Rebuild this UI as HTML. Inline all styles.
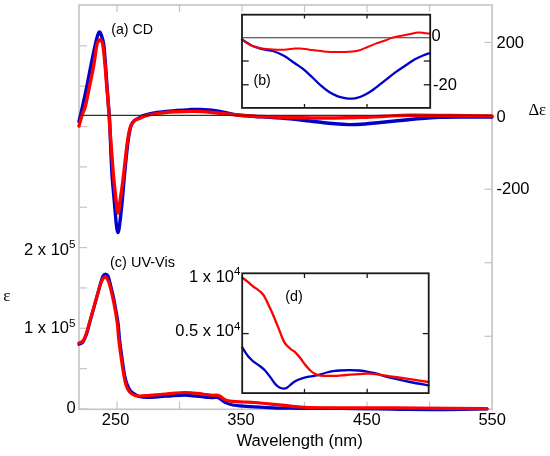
<!DOCTYPE html>
<html><head><meta charset="utf-8"><style>
html,body{margin:0;padding:0;background:#fff;width:550px;height:456px;overflow:hidden;font-family:"Liberation Sans",sans-serif;}
svg{display:block;will-change:transform;}
</style></head><body>
<svg width="550" height="456" viewBox="0 0 550 456">
<rect width="550" height="456" fill="#fff"/>
<rect x="79" y="5" width="413.1" height="404.3" fill="none" stroke="#c4c4c4" stroke-width="1.6"/>
<line x1="117" y1="5" x2="117" y2="12" stroke="#c4c4c4" stroke-width="1.2"/>
<line x1="117" y1="409" x2="117" y2="401.5" stroke="#c4c4c4" stroke-width="1.2"/>
<line x1="179.5" y1="5" x2="179.5" y2="12" stroke="#c4c4c4" stroke-width="1.2"/>
<line x1="179.5" y1="409" x2="179.5" y2="401.5" stroke="#c4c4c4" stroke-width="1.2"/>
<line x1="242" y1="5" x2="242" y2="12" stroke="#c4c4c4" stroke-width="1.2"/>
<line x1="242" y1="409" x2="242" y2="401.5" stroke="#c4c4c4" stroke-width="1.2"/>
<line x1="304.5" y1="5" x2="304.5" y2="12" stroke="#c4c4c4" stroke-width="1.2"/>
<line x1="304.5" y1="409" x2="304.5" y2="401.5" stroke="#c4c4c4" stroke-width="1.2"/>
<line x1="367" y1="5" x2="367" y2="12" stroke="#c4c4c4" stroke-width="1.2"/>
<line x1="367" y1="409" x2="367" y2="401.5" stroke="#c4c4c4" stroke-width="1.2"/>
<line x1="429.5" y1="5" x2="429.5" y2="12" stroke="#c4c4c4" stroke-width="1.2"/>
<line x1="429.5" y1="409" x2="429.5" y2="401.5" stroke="#c4c4c4" stroke-width="1.2"/>
<line x1="79" y1="409.00" x2="87" y2="409.00" stroke="#c4c4c4" stroke-width="1.2"/>
<line x1="79" y1="368.65" x2="87" y2="368.65" stroke="#c4c4c4" stroke-width="1.2"/>
<line x1="79" y1="328.30" x2="87" y2="328.30" stroke="#c4c4c4" stroke-width="1.2"/>
<line x1="79" y1="287.95" x2="87" y2="287.95" stroke="#c4c4c4" stroke-width="1.2"/>
<line x1="79" y1="247.60" x2="87" y2="247.60" stroke="#c4c4c4" stroke-width="1.2"/>
<line x1="79" y1="207.25" x2="87" y2="207.25" stroke="#c4c4c4" stroke-width="1.2"/>
<line x1="79" y1="166.90" x2="87" y2="166.90" stroke="#c4c4c4" stroke-width="1.2"/>
<line x1="79" y1="126.55" x2="87" y2="126.55" stroke="#c4c4c4" stroke-width="1.2"/>
<line x1="79" y1="86.20" x2="87" y2="86.20" stroke="#c4c4c4" stroke-width="1.2"/>
<line x1="79" y1="45.85" x2="87" y2="45.85" stroke="#c4c4c4" stroke-width="1.2"/>
<line x1="484.5" y1="42.40" x2="492" y2="42.40" stroke="#c4c4c4" stroke-width="1.2"/>
<line x1="484.5" y1="115.80" x2="492" y2="115.80" stroke="#c4c4c4" stroke-width="1.2"/>
<line x1="484.5" y1="189.20" x2="492" y2="189.20" stroke="#c4c4c4" stroke-width="1.2"/>
<line x1="484.5" y1="262.80" x2="492" y2="262.80" stroke="#c4c4c4" stroke-width="1.2"/>
<line x1="484.5" y1="336.30" x2="492" y2="336.30" stroke="#c4c4c4" stroke-width="1.2"/>
<path d="M79.00,121.50 C79.60,118.92 81.28,111.92 82.60,106.00 C83.92,100.08 85.50,92.83 86.90,86.00 C88.30,79.17 89.62,71.83 91.00,65.00 C92.38,58.17 94.10,49.92 95.20,45.00 C96.30,40.08 96.90,37.67 97.60,35.50 C98.30,33.33 98.78,32.08 99.40,32.00 C100.02,31.92 100.57,32.83 101.30,35.00 C102.03,37.17 103.10,40.00 103.80,45.00 C104.50,50.00 104.97,58.17 105.50,65.00 C106.03,71.83 106.50,79.17 107.00,86.00 C107.50,92.83 108.07,100.33 108.50,106.00 C108.93,111.67 109.22,112.67 109.60,120.00 C109.98,127.33 110.38,140.67 110.80,150.00 C111.22,159.33 111.53,167.67 112.10,176.00 C112.67,184.33 113.50,192.00 114.20,200.00 C114.90,208.00 115.67,218.58 116.30,224.00 C116.93,229.42 117.43,232.50 118.00,232.50 C118.57,232.50 118.98,229.42 119.70,224.00 C120.42,218.58 121.52,208.00 122.30,200.00 C123.08,192.00 123.62,184.33 124.40,176.00 C125.18,167.67 126.23,156.83 127.00,150.00 C127.77,143.17 128.28,139.17 129.00,135.00 C129.72,130.83 130.38,127.42 131.30,125.00 C132.22,122.58 133.22,121.67 134.50,120.50 C135.78,119.33 137.42,118.83 139.00,118.00 C140.58,117.17 141.00,116.42 144.00,115.50 C147.00,114.58 151.67,113.33 157.00,112.50 C162.33,111.67 170.50,110.98 176.00,110.50 C181.50,110.02 186.00,109.77 190.00,109.60 C194.00,109.43 195.83,109.33 200.00,109.50 C204.17,109.67 210.33,109.98 215.00,110.60 C219.67,111.22 223.83,112.42 228.00,113.20 C232.17,113.98 235.50,114.75 240.00,115.30 C244.50,115.85 250.00,116.17 255.00,116.50 C260.00,116.83 264.17,116.92 270.00,117.30 C275.83,117.68 283.33,118.18 290.00,118.80 C296.67,119.42 302.50,120.17 310.00,121.00 C317.50,121.83 328.50,123.20 335.00,123.80 C341.50,124.40 344.00,124.57 349.00,124.60 C354.00,124.63 359.83,124.35 365.00,124.00 C370.17,123.65 375.00,123.00 380.00,122.50 C385.00,122.00 390.00,121.50 395.00,121.00 C400.00,120.50 405.00,119.95 410.00,119.50 C415.00,119.05 420.00,118.65 425.00,118.30 C430.00,117.95 434.17,117.60 440.00,117.40 C445.83,117.20 451.33,117.17 460.00,117.10 C468.67,117.03 486.67,117.02 492.00,117.00" fill="none" stroke="#0000c8" stroke-width="3.4" stroke-linejoin="round" stroke-linecap="round"/>
<path d="M79.00,126.00 C79.52,124.17 81.03,118.33 82.10,115.00 C83.17,111.67 84.15,110.83 85.40,106.00 C86.65,101.17 88.20,92.83 89.60,86.00 C91.00,79.17 92.60,71.83 93.80,65.00 C95.00,58.17 96.02,49.00 96.80,45.00 C97.58,41.00 97.97,41.87 98.50,41.00 C99.03,40.13 99.50,39.80 100.00,39.80 C100.50,39.80 101.02,40.13 101.50,41.00 C101.98,41.87 102.30,41.00 102.90,45.00 C103.50,49.00 104.47,58.17 105.10,65.00 C105.73,71.83 106.22,80.17 106.70,86.00 C107.18,91.83 107.62,95.17 108.00,100.00 C108.38,104.83 108.67,110.00 109.00,115.00 C109.33,120.00 109.58,124.17 110.00,130.00 C110.42,135.83 110.92,142.33 111.50,150.00 C112.08,157.67 112.75,167.67 113.50,176.00 C114.25,184.33 115.25,193.83 116.00,200.00 C116.75,206.17 117.30,213.00 118.00,213.00 C118.70,213.00 119.37,205.50 120.20,200.00 C121.03,194.50 121.97,188.33 123.00,180.00 C124.03,171.67 125.48,157.50 126.40,150.00 C127.32,142.50 127.70,139.17 128.50,135.00 C129.30,130.83 130.07,127.50 131.20,125.00 C132.33,122.50 133.83,121.12 135.30,120.00 C136.77,118.88 138.55,118.92 140.00,118.30 C141.45,117.68 141.17,117.12 144.00,116.30 C146.83,115.48 151.67,114.15 157.00,113.40 C162.33,112.65 169.67,112.13 176.00,111.80 C182.33,111.47 189.33,111.33 195.00,111.40 C200.67,111.47 204.50,111.77 210.00,112.20 C215.50,112.63 223.00,113.48 228.00,114.00 C233.00,114.52 234.67,114.88 240.00,115.30 C245.33,115.72 251.67,116.13 260.00,116.50 C268.33,116.87 277.50,117.25 290.00,117.50 C302.50,117.75 323.33,118.02 335.00,118.00 C346.67,117.98 351.67,117.70 360.00,117.40 C368.33,117.10 376.67,116.57 385.00,116.20 C393.33,115.83 399.17,115.32 410.00,115.20 C420.83,115.08 436.33,115.37 450.00,115.50 C463.67,115.63 485.00,115.92 492.00,116.00" fill="none" stroke="#ff0000" stroke-width="3.4" stroke-linejoin="round" stroke-linecap="round"/>
<path d="M79.00,344.20 C79.67,343.83 81.75,343.70 83.00,342.00 C84.25,340.30 85.33,337.40 86.50,334.00 C87.67,330.60 88.83,325.77 90.00,321.60 C91.17,317.43 92.33,313.18 93.50,309.00 C94.67,304.82 95.82,300.78 97.00,296.50 C98.18,292.22 99.60,286.72 100.60,283.30 C101.60,279.88 102.18,277.55 103.00,276.00 C103.82,274.45 104.67,274.00 105.50,274.00 C106.33,274.00 107.25,274.50 108.00,276.00 C108.75,277.50 109.08,279.42 110.00,283.00 C110.92,286.58 112.47,292.68 113.50,297.50 C114.53,302.32 115.40,307.32 116.20,311.90 C117.00,316.48 117.73,320.32 118.30,325.00 C118.87,329.68 118.93,334.17 119.60,340.00 C120.27,345.83 121.47,354.17 122.30,360.00 C123.13,365.83 123.82,371.00 124.60,375.00 C125.38,379.00 126.00,381.33 127.00,384.00 C128.00,386.67 129.10,389.20 130.60,391.00 C132.10,392.80 134.43,393.83 136.00,394.80 C137.57,395.77 138.00,396.38 140.00,396.80 C142.00,397.22 144.67,397.32 148.00,397.30 C151.33,397.28 156.00,396.95 160.00,396.70 C164.00,396.45 167.83,396.05 172.00,395.80 C176.17,395.55 181.50,395.20 185.00,395.20 C188.50,395.20 190.50,395.58 193.00,395.80 C195.50,396.02 197.38,396.22 200.00,396.50 C202.62,396.78 206.53,397.32 208.70,397.50 C210.87,397.68 211.53,397.62 213.00,397.60 C214.47,397.58 216.17,397.08 217.50,397.40 C218.83,397.72 219.55,398.58 221.00,399.50 C222.45,400.42 224.25,401.98 226.20,402.90 C228.15,403.82 229.80,404.45 232.70,405.00 C235.60,405.55 239.97,405.90 243.60,406.20 C247.23,406.50 250.85,406.58 254.50,406.80 C258.15,407.02 261.85,407.28 265.50,407.50 C269.15,407.72 272.77,407.98 276.40,408.10 C280.03,408.22 283.37,408.17 287.30,408.20 C291.23,408.23 291.22,408.25 300.00,408.30 C308.78,408.35 326.67,408.38 340.00,408.50 C353.33,408.62 368.83,408.83 380.00,409.00 C391.17,409.17 396.50,409.40 407.00,409.50 C417.50,409.60 429.67,409.68 443.00,409.60 C456.33,409.52 479.67,409.10 487.00,409.00" fill="none" stroke="#0000c8" stroke-width="3.2" stroke-linejoin="round" stroke-linecap="round"/>
<path d="M79.00,343.00 C79.67,342.63 81.75,342.47 83.00,340.80 C84.25,339.13 85.33,336.37 86.50,333.00 C87.67,329.63 88.83,324.70 90.00,320.60 C91.17,316.50 92.33,312.50 93.50,308.40 C94.67,304.30 95.82,300.10 97.00,296.00 C98.18,291.90 99.60,286.70 100.60,283.80 C101.60,280.90 102.27,279.73 103.00,278.60 C103.73,277.47 104.33,277.00 105.00,277.00 C105.67,277.00 106.28,277.47 107.00,278.60 C107.72,279.73 108.33,280.60 109.30,283.80 C110.27,287.00 111.77,293.12 112.80,297.80 C113.83,302.48 114.72,307.37 115.50,311.90 C116.28,316.43 116.95,320.32 117.50,325.00 C118.05,329.68 118.13,334.17 118.80,340.00 C119.47,345.83 120.67,354.17 121.50,360.00 C122.33,365.83 123.05,370.83 123.80,375.00 C124.55,379.17 125.03,382.17 126.00,385.00 C126.97,387.83 128.10,390.25 129.60,392.00 C131.10,393.75 133.27,394.83 135.00,395.50 C136.73,396.17 137.83,396.00 140.00,396.00 C142.17,396.00 144.67,395.73 148.00,395.50 C151.33,395.27 156.00,394.97 160.00,394.60 C164.00,394.23 167.83,393.65 172.00,393.30 C176.17,392.95 181.50,392.55 185.00,392.50 C188.50,392.45 190.50,392.80 193.00,393.00 C195.50,393.20 197.67,393.42 200.00,393.70 C202.33,393.98 204.83,394.43 207.00,394.70 C209.17,394.97 211.17,395.22 213.00,395.30 C214.83,395.38 216.67,394.95 218.00,395.20 C219.33,395.45 219.67,395.97 221.00,396.80 C222.33,397.63 224.05,399.43 226.00,400.20 C227.95,400.97 229.77,401.10 232.70,401.40 C235.63,401.70 239.97,401.82 243.60,402.00 C247.23,402.18 250.85,402.25 254.50,402.50 C258.15,402.75 261.85,403.15 265.50,403.50 C269.15,403.85 272.77,404.23 276.40,404.60 C280.03,404.97 283.67,405.33 287.30,405.70 C290.93,406.07 294.57,406.50 298.20,406.80 C301.83,407.10 302.13,407.33 309.10,407.50 C316.07,407.67 328.18,407.75 340.00,407.80 C351.82,407.85 366.67,407.73 380.00,407.80 C393.33,407.87 402.17,408.05 420.00,408.20 C437.83,408.35 475.83,408.62 487.00,408.70" fill="none" stroke="#ff0000" stroke-width="3.2" stroke-linejoin="round" stroke-linecap="round"/>
<line x1="79" y1="115.4" x2="492" y2="115.4" stroke="#303030" stroke-width="1.2"/>
<rect x="242" y="14.7" width="188.2" height="93.2" fill="#fff" stroke="none"/>
<line x1="242" y1="37.8" x2="430.2" y2="37.8" stroke="#333" stroke-width="1.1"/>
<path d="M242.00,39.60 C243.50,40.53 248.33,43.83 251.00,45.20 C253.67,46.57 255.67,47.07 258.00,47.80 C260.33,48.53 262.50,49.07 265.00,49.60 C267.50,50.13 269.85,49.97 273.00,51.00 C276.15,52.03 280.80,54.13 283.90,55.80 C287.00,57.47 289.42,59.50 291.60,61.00 C293.78,62.50 295.00,63.42 297.00,64.80 C299.00,66.18 301.08,67.25 303.60,69.30 C306.12,71.35 309.25,74.42 312.10,77.10 C314.95,79.78 317.85,82.92 320.70,85.40 C323.55,87.88 326.35,90.18 329.20,92.00 C332.05,93.82 334.95,95.25 337.80,96.30 C340.65,97.35 343.93,97.92 346.30,98.30 C348.67,98.68 350.22,98.67 352.00,98.60 C353.78,98.53 355.00,98.47 357.00,97.90 C359.00,97.33 361.37,96.52 364.00,95.20 C366.63,93.88 369.28,92.48 372.80,90.00 C376.32,87.52 381.28,83.28 385.10,80.30 C388.92,77.32 392.18,74.65 395.70,72.10 C399.22,69.55 402.98,67.15 406.20,65.00 C409.42,62.85 412.08,60.83 415.00,59.20 C417.92,57.57 421.20,56.22 423.70,55.20 C426.20,54.18 428.95,53.45 430.00,53.10" fill="none" stroke="#0000c8" stroke-width="2.3" stroke-linejoin="round" stroke-linecap="round"/>
<path d="M242.00,39.90 C243.50,40.82 247.67,43.98 251.00,45.40 C254.33,46.82 258.33,47.72 262.00,48.40 C265.67,49.08 269.35,49.28 273.00,49.50 C276.65,49.72 280.27,49.85 283.90,49.70 C287.53,49.55 292.00,48.80 294.80,48.60 C297.60,48.40 298.28,48.32 300.70,48.50 C303.12,48.68 305.50,49.22 309.30,49.70 C313.10,50.18 318.75,51.00 323.50,51.40 C328.25,51.80 333.52,52.03 337.80,52.10 C342.08,52.17 345.70,52.07 349.20,51.80 C352.70,51.53 355.73,51.30 358.80,50.50 C361.87,49.70 364.68,48.18 367.60,47.00 C370.52,45.82 373.38,44.48 376.30,43.40 C379.22,42.32 382.47,41.43 385.10,40.50 C387.73,39.57 389.17,38.63 392.10,37.80 C395.03,36.97 399.47,36.17 402.70,35.50 C405.93,34.83 409.02,34.28 411.50,33.80 C413.98,33.32 415.57,32.75 417.60,32.60 C419.63,32.45 421.63,32.70 423.70,32.90 C425.77,33.10 428.95,33.65 430.00,33.80" fill="none" stroke="#ff0000" stroke-width="2" stroke-linejoin="round" stroke-linecap="round"/>
<rect x="242" y="14.7" width="188.2" height="93.2" fill="none" stroke="#1a1a1a" stroke-width="1.8"/>
<line x1="304.5" y1="14.7" x2="304.5" y2="18.5" stroke="#1a1a1a" stroke-width="1.3"/>
<line x1="304.5" y1="107.9" x2="304.5" y2="104" stroke="#1a1a1a" stroke-width="1.3"/>
<line x1="367" y1="14.7" x2="367" y2="18.5" stroke="#1a1a1a" stroke-width="1.3"/>
<line x1="367" y1="107.9" x2="367" y2="104" stroke="#1a1a1a" stroke-width="1.3"/>
<line x1="242" y1="61" x2="248.7" y2="61" stroke="#1a1a1a" stroke-width="1.3"/>
<line x1="423.8" y1="61" x2="430.2" y2="61" stroke="#1a1a1a" stroke-width="1.3"/>
<line x1="242" y1="84.8" x2="248.7" y2="84.8" stroke="#1a1a1a" stroke-width="1.3"/>
<line x1="423.8" y1="84.8" x2="430.2" y2="84.8" stroke="#1a1a1a" stroke-width="1.3"/>
<rect x="242.2" y="273.3" width="186.5" height="119.8" fill="#fff" stroke="none"/>
<path d="M242.30,347.50 C243.23,348.92 246.08,353.70 247.90,356.00 C249.72,358.30 251.23,359.65 253.20,361.30 C255.17,362.95 257.73,364.37 259.70,365.90 C261.67,367.43 263.23,368.63 265.00,370.50 C266.77,372.37 268.55,374.80 270.30,377.10 C272.05,379.40 273.97,382.55 275.50,384.30 C277.03,386.05 278.18,386.88 279.50,387.60 C280.82,388.32 282.08,388.63 283.40,388.60 C284.72,388.57 285.87,388.33 287.40,387.40 C288.93,386.47 291.00,384.18 292.60,383.00 C294.20,381.82 295.53,381.03 297.00,380.30 C298.47,379.57 299.62,379.17 301.40,378.60 C303.18,378.03 305.58,377.37 307.70,376.90 C309.82,376.43 311.97,376.22 314.10,375.80 C316.23,375.38 318.38,374.95 320.50,374.40 C322.62,373.85 324.68,373.03 326.80,372.50 C328.92,371.97 331.08,371.53 333.20,371.20 C335.32,370.87 336.75,370.67 339.50,370.50 C342.25,370.33 346.52,370.20 349.70,370.20 C352.88,370.20 356.05,370.33 358.60,370.50 C361.15,370.67 362.27,370.75 365.00,371.20 C367.73,371.65 370.83,372.12 375.00,373.20 C379.17,374.28 384.17,376.23 390.00,377.70 C395.83,379.17 403.58,380.72 410.00,382.00 C416.42,383.28 425.42,384.83 428.50,385.40" fill="none" stroke="#0000c8" stroke-width="2.3" stroke-linejoin="round" stroke-linecap="round"/>
<path d="M242.30,277.80 C243.23,278.48 246.08,280.45 247.90,281.90 C249.72,283.35 251.67,285.30 253.20,286.50 C254.73,287.70 255.78,288.12 257.10,289.10 C258.42,290.08 259.90,291.20 261.10,292.40 C262.30,293.60 263.22,294.55 264.30,296.30 C265.38,298.05 266.38,300.37 267.60,302.90 C268.82,305.43 270.28,308.53 271.60,311.50 C272.92,314.47 274.18,317.52 275.50,320.70 C276.82,323.88 277.97,326.90 279.50,330.60 C281.03,334.30 282.73,339.75 284.70,342.90 C286.67,346.05 289.58,347.97 291.30,349.50 C293.02,351.03 293.53,350.72 295.00,352.10 C296.47,353.48 298.40,355.68 300.10,357.80 C301.80,359.92 303.50,362.68 305.20,364.80 C306.90,366.92 308.60,368.95 310.30,370.50 C312.00,372.05 313.70,373.25 315.40,374.10 C317.10,374.95 317.53,375.30 320.50,375.60 C323.47,375.90 328.97,376.00 333.20,375.90 C337.43,375.80 341.67,375.30 345.90,375.00 C350.13,374.70 354.58,374.33 358.60,374.10 C362.62,373.87 364.77,373.23 370.00,373.60 C375.23,373.97 383.33,375.37 390.00,376.30 C396.67,377.23 403.58,378.25 410.00,379.20 C416.42,380.15 425.42,381.53 428.50,382.00" fill="none" stroke="#ff0000" stroke-width="2.3" stroke-linejoin="round" stroke-linecap="round"/>
<rect x="242.2" y="273.3" width="186.5" height="119.8" fill="none" stroke="#1a1a1a" stroke-width="1.8"/>
<line x1="304.5" y1="273.3" x2="304.5" y2="278" stroke="#1a1a1a" stroke-width="1.3"/>
<line x1="304.5" y1="393.1" x2="304.5" y2="388.8" stroke="#1a1a1a" stroke-width="1.3"/>
<line x1="367.2" y1="273.3" x2="367.2" y2="278" stroke="#1a1a1a" stroke-width="1.3"/>
<line x1="367.2" y1="393.1" x2="367.2" y2="388.8" stroke="#1a1a1a" stroke-width="1.3"/>
<line x1="242.2" y1="333.6" x2="248.7" y2="333.6" stroke="#1a1a1a" stroke-width="1.3"/>
<line x1="422.8" y1="333.6" x2="428.7" y2="333.6" stroke="#1a1a1a" stroke-width="1.3"/>
<text x="111.2" y="34.1" font-size="14.2" text-anchor="start" font-family="Liberation Sans, sans-serif" fill="#000" >(a) CD</text>
<text x="253.5" y="84.9" font-size="14.2" text-anchor="start" font-family="Liberation Sans, sans-serif" fill="#000" >(b)</text>
<text x="110.0" y="267.2" font-size="14.5" text-anchor="start" font-family="Liberation Sans, sans-serif" fill="#000" >(c) UV-Vis</text>
<text x="285.3" y="300.9" font-size="14.3" text-anchor="start" font-family="Liberation Sans, sans-serif" fill="#000" >(d)</text>
<text x="299.6" y="445.8" font-size="16.7" text-anchor="middle" font-family="Liberation Sans, sans-serif" fill="#000" >Wavelength (nm)</text>
<text x="115.6" y="424.5" font-size="16.5" text-anchor="middle" font-family="Liberation Sans, sans-serif" fill="#000" >250</text>
<text x="241" y="424.5" font-size="16.5" text-anchor="middle" font-family="Liberation Sans, sans-serif" fill="#000" >350</text>
<text x="366.8" y="424.5" font-size="16.5" text-anchor="middle" font-family="Liberation Sans, sans-serif" fill="#000" >450</text>
<text x="492.2" y="424.5" font-size="16.5" text-anchor="middle" font-family="Liberation Sans, sans-serif" fill="#000" >550</text>
<text x="75.5" y="254.5" font-size="16.5" text-anchor="end" font-family="Liberation Sans, sans-serif" fill="#000" >2 x 10<tspan font-size="11.6" dy="-6.3">5</tspan></text>
<text x="75.5" y="333.4" font-size="16.5" text-anchor="end" font-family="Liberation Sans, sans-serif" fill="#000" >1 x 10<tspan font-size="11.6" dy="-6.3">5</tspan></text>
<text x="75.7" y="413.4" font-size="16.5" text-anchor="end" font-family="Liberation Sans, sans-serif" fill="#000" >0</text>
<text x="496.5" y="48.1" font-size="16.5" text-anchor="start" font-family="Liberation Sans, sans-serif" fill="#000" >200</text>
<text x="496.5" y="122" font-size="16.5" text-anchor="start" font-family="Liberation Sans, sans-serif" fill="#000" >0</text>
<text x="496.5" y="194.0" font-size="16.5" text-anchor="start" font-family="Liberation Sans, sans-serif" fill="#000" >-200</text>
<text x="431.5" y="41.3" font-size="16.5" text-anchor="start" font-family="Liberation Sans, sans-serif" fill="#000" >0</text>
<text x="433.1" y="90.3" font-size="16.5" text-anchor="start" font-family="Liberation Sans, sans-serif" fill="#000" >-20</text>
<text x="240.5" y="281.7" font-size="16.5" text-anchor="end" font-family="Liberation Sans, sans-serif" fill="#000" >1 x 10<tspan font-size="11.6" dy="-6.3">4</tspan></text>
<text x="240.5" y="336.4" font-size="16.5" text-anchor="end" font-family="Liberation Sans, sans-serif" fill="#000" >0.5 x 10<tspan font-size="11.6" dy="-6.3">4</tspan></text>
<text x="3.3" y="301.4" font-size="17" font-family="Liberation Serif, serif" fill="#000">&#949;</text>
<text x="528.4" y="114.6" font-size="16.6" font-family="Liberation Serif, serif" fill="#000">&#916;&#949;</text>
</svg>
</body></html>
